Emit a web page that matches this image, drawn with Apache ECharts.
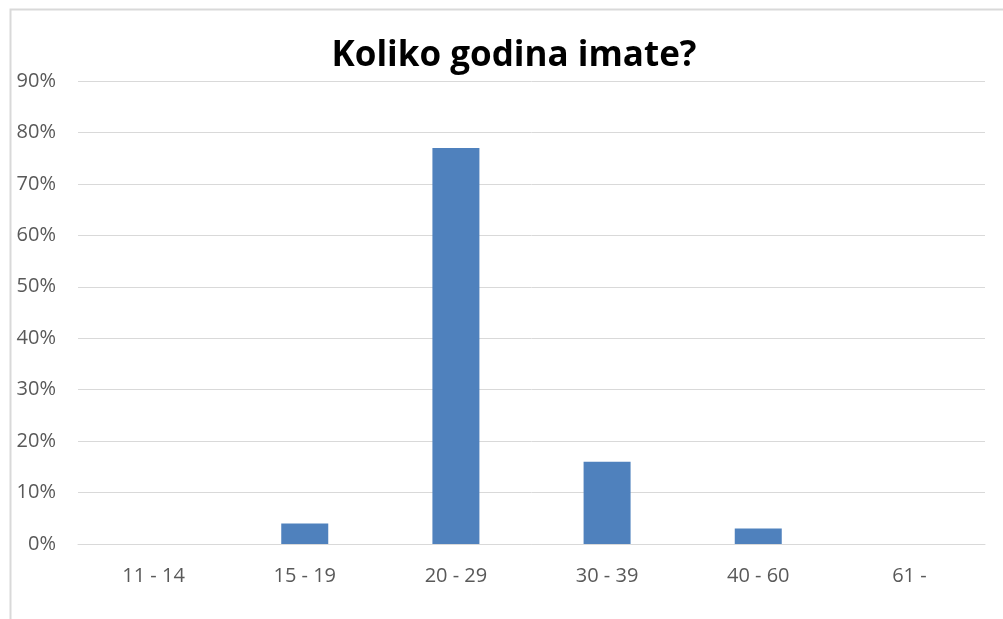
<!DOCTYPE html>
<html>
<head>
<meta charset="utf-8">
<script src="https://cdn.jsdelivr.net/npm/echarts@6/dist/echarts.min.js"></script>
<style>
  html, body { margin: 0; padding: 0; background: #fff; }
  #chart { width: 1003px; height: 619px; }
</style>
</head>
<body>
<div id="chart"></div>
<script>
const categories = ["11 - 14", "15 - 19", "20 - 29", "30 - 39", "40 - 60", "61 -"];
const shares = [0, 4, 77, 16, 3, 0];
const yTicks = [0, 10, 20, 30, 40, 50, 60, 70, 80, 90];

const chart = echarts.init(document.getElementById("chart"));
const font = "Open Sans, Noto Sans, sans-serif";

chart.setOption({
  animation: false,
  title: {
    text: "Koliko godina imate?",
    left: 509,
    top: 34,
    textAlign: "center",
    textStyle: {
      fontFamily: font,
      fontSize: 35,
      fontWeight: "bold",
      color: "#000"
    }
  },
  grid: { left: 78, right: 18, top: 81, bottom: 75 },
  xAxis: {
    type: "category",
    data: categories,
    axisLine: { lineStyle: { color: "#d9d9d9" } },
    axisTick: { show: false },
    axisLabel: { color: "#595959", fontSize: 20, fontFamily: font, margin: 22 }
  },
  yAxis: {
    type: "value",
    min: yTicks[0],
    max: yTicks[yTicks.length - 1],
    interval: 10,
    axisLine: { show: false },
    axisTick: { show: false },
    splitLine: { lineStyle: { color: "#d9d9d9" } },
    axisLabel: {
      color: "#595959",
      fontSize: 20,
      fontFamily: font,
      margin: 22,
      formatter: (v) => v + "%"
    }
  },
  series: [
    {
      type: "bar",
      data: shares,
      barWidth: 47,
      itemStyle: { color: "#4f81bd" }
    }
  ],
  graphic: [
    {
      type: "polyline",
      shape: { points: [[10.5, 619], [10.5, 9.5], [1003, 9.5]] },
      style: { stroke: "#d9d9d9", lineWidth: 2, fill: null }
    }
  ]
});
</script>
</body>
</html>
